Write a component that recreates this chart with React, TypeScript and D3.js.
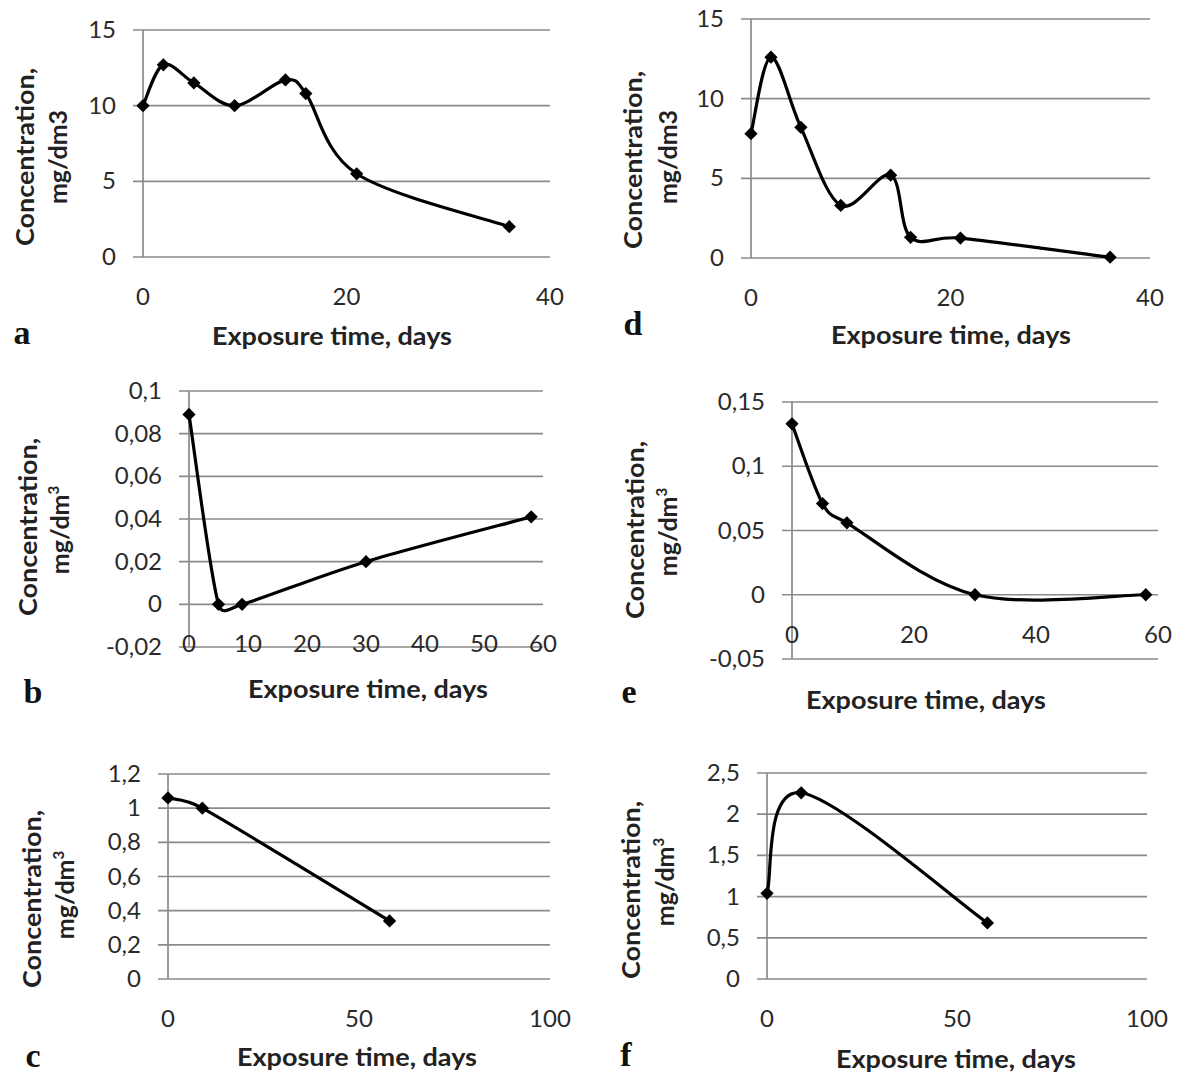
import React from 'react'
import * as d3 from 'd3'

// exposure days and concentrations
const daysA = [0, 2, 5, 9, 14, 16, 21, 36]
const concA = [10.0, 12.7, 11.5, 10.0, 11.7, 10.8, 5.5, 2.0]
const daysD = [0, 2, 5, 9, 14, 16, 21, 36]
const concD = [7.8, 12.6, 8.2, 3.3, 5.2, 1.3, 1.25, 0.05]
const daysB = [0, 5, 9, 30, 58]
const concB = [0.089, 0, 0, 0.02, 0.041]
const daysE = [0, 5, 9, 30, 58]
const concE = [0.133, 0.071, 0.056, 0, 0]
const daysC = [0, 9, 58]
const concC = [1.06, 1.0, 0.34]
const daysF = [0, 9, 58]
const concF = [1.04, 2.26, 0.68]

const yTicksA = [0, 5, 10, 15]
const yTicksB = [-0.02, 0, 0.02, 0.04, 0.06, 0.08, 0.1]
const yTicksC = [0, 0.2, 0.4, 0.6, 0.8, 1, 1.2]
const yTicksE = [-0.05, 0, 0.05, 0.1, 0.15]
const yTicksF = [0, 0.5, 1, 1.5, 2, 2.5]
const xTicks40 = [0, 20, 40]
const xTicks60by10 = [0, 10, 20, 30, 40, 50, 60]
const xTicks60by20 = [0, 20, 40, 60]
const xTicks100 = [0, 50, 100]

const xTitle = 'Exposure time, days'
const yTitle = 'Concentration,'

const locale = d3.formatLocale({
  decimal: ',',
  thousands: ' ',
  grouping: [3],
  currency: ['', ''],
  minus: '-',
})
const fmt = locale.format('~g')

const GRID = '#8a8a8a'
const FONT = 'Lato, "Open Sans", sans-serif'

type PanelDef = {
  letter: string
  days: number[]
  conc: number[]
  xDomain: [number, number]
  yDomain: [number, number]
  xTicks: number[]
  yTicks: number[]
  sup: boolean
  // layout in page pixels
  left: number
  right: number
  top: number
  bottom: number
  concX: number
  concY: number
  mgX: number
  mgY: number
  titleX: number
  titleY: number
  letterX: number
  letterY: number
}

const panels: PanelDef[] = [
  {
    letter: 'a', days: daysA, conc: concA, xDomain: [0, 40], yDomain: [0, 15],
    xTicks: xTicks40, yTicks: yTicksA, sup: false,
    left: 143, right: 550, top: 30, bottom: 257,
    concX: 25, concY: 157, mgX: 60, mgY: 157, titleX: 332, titleY: 345, letterX: 22, letterY: 344,
  },
  {
    letter: 'd', days: daysD, conc: concD, xDomain: [0, 40], yDomain: [0, 15],
    xTicks: xTicks40, yTicks: yTicksA, sup: false,
    left: 751, right: 1150, top: 19, bottom: 258,
    concX: 633, concY: 160, mgX: 670, mgY: 157, titleX: 951, titleY: 344, letterX: 633, letterY: 335,
  },
  {
    letter: 'b', days: daysB, conc: concB, xDomain: [0, 60], yDomain: [-0.02, 0.1],
    xTicks: xTicks60by10, yTicks: yTicksB, sup: true,
    left: 189, right: 543, top: 391, bottom: 647,
    concX: 28, concY: 527, mgX: 62, mgY: 530, titleX: 368, titleY: 698, letterX: 33, letterY: 703,
  },
  {
    letter: 'e', days: daysE, conc: concE, xDomain: [0, 60], yDomain: [-0.05, 0.15],
    xTicks: xTicks60by20, yTicks: yTicksE, sup: true,
    left: 792, right: 1158, top: 402, bottom: 659,
    concX: 635, concY: 530, mgX: 670, mgY: 532, titleX: 926, titleY: 709, letterX: 629, letterY: 703,
  },
  {
    letter: 'c', days: daysC, conc: concC, xDomain: [0, 100], yDomain: [0, 1.2],
    xTicks: xTicks100, yTicks: yTicksC, sup: true,
    left: 168, right: 550, top: 774, bottom: 979,
    concX: 32, concY: 899, mgX: 67, mgY: 895, titleX: 357, titleY: 1066, letterX: 33, letterY: 1067,
  },
  {
    letter: 'f', days: daysF, conc: concF, xDomain: [0, 100], yDomain: [0, 2.5],
    xTicks: xTicks100, yTicks: yTicksF, sup: true,
    left: 767, right: 1147, top: 773, bottom: 979,
    concX: 631, concY: 890, mgX: 667, mgY: 882, titleX: 956, titleY: 1068, letterX: 626, letterY: 1066,
  },
]

const marker = d3.symbol(d3.symbolSquare, 88)()

// spreadsheet-style smoothed line: catmull-rom arms, clamped against the segment length
const smoothPath = (p: [number, number][]) => {
  const path = d3.path()
  const n = p.length
  const tan = p.map((_, i) => {
    const a = p[Math.max(0, i - 1)]
    const b = p[Math.min(n - 1, i + 1)]
    return [(b[0] - a[0]) / 6, (b[1] - a[1]) / 6]
  })
  const arm = (t: number[], chord: number, sign: number) => {
    const len = Math.hypot(t[0], t[1]) || 1
    const k = Math.min(1, (0.55 * chord) / len)
    return [t[0] * k * sign, t[1] * k * sign]
  }
  path.moveTo(p[0][0], p[0][1])
  for (let i = 0; i < n - 1; i++) {
    const chord = Math.hypot(p[i + 1][0] - p[i][0], p[i + 1][1] - p[i][1])
    const c1 = arm(tan[i], chord, 1)
    const c2 = arm(tan[i + 1], chord, -1)
    path.bezierCurveTo(
      p[i][0] + c1[0], p[i][1] + c1[1],
      p[i + 1][0] + c2[0], p[i + 1][1] + c2[1],
      p[i + 1][0], p[i + 1][1]
    )
  }
  return path.toString()
}

const Panel = ({ p }: { p: PanelDef }) => {
  const x = d3.scaleLinear().domain(p.xDomain).range([p.left, p.right])
  const y = d3.scaleLinear().domain(p.yDomain).range([p.bottom, p.top])
  const pts: [number, number][] = p.days.map((d, i) => [x(d), y(p.conc[i])])

  const y0 = y(0)

  return (
    <g>
      {p.yTicks.map(t => (
        <line key={'g' + t} x1={p.left - 10} x2={p.right} y1={y(t)} y2={y(t)} stroke={GRID} strokeWidth={1.7} />
      ))}
      <line x1={x(0)} x2={x(0)} y1={p.top} y2={p.bottom} stroke={GRID} strokeWidth={1.7} />
      {p.yTicks.map(t => (
        <text key={'yl' + t} x={p.left - 27} y={y(t) + 8} textAnchor="end" fontSize={24} fill="#2a2a2a">
          {fmt(t)}
        </text>
      ))}
      {p.xTicks.map(t => (
        <text key={'xl' + t} x={x(t)} y={y0 + 48} textAnchor="middle" fontSize={24} fill="#2a2a2a">
          {fmt(t)}
        </text>
      ))}
      <path d={smoothPath(pts)} fill="none" stroke="#000" strokeWidth={3.2} />
      {pts.map((d, i) => (
        <path key={'m' + i} d={marker || ''} fill="#000" transform={`translate(${d[0]},${d[1]}) rotate(45)`} />
      ))}
      <text
        transform={`translate(${p.concX + 9},${p.concY}) rotate(-90)`}
        textAnchor="middle"
        fontSize={25}
        fontWeight="bold"
        fill="#222"
        textLength={178}
        lengthAdjust="spacingAndGlyphs"
      >
        {yTitle}
      </text>
      <text
        transform={`translate(${p.mgX + 7},${p.mgY}) rotate(-90)`}
        textAnchor="middle"
        fontSize={25}
        fontWeight="bold"
        fill="#222"
      >
        {p.sup ? (
          <>
            mg/dm<tspan fontSize={15} dy={-10}>3</tspan>
          </>
        ) : (
          'mg/dm3'
        )}
      </text>
      <text
        x={p.titleX}
        y={p.titleY}
        textAnchor="middle"
        fontSize={25}
        fontWeight="bold"
        fill="#222"
        textLength={240}
        lengthAdjust="spacingAndGlyphs"
      >
        {xTitle}
      </text>
      <text
        x={p.letterX}
        y={p.letterY}
        textAnchor="middle"
        fontSize={34}
        fontWeight="bold"
        fontFamily='"Liberation Serif", "Times New Roman", serif'
        fill="#111"
      >
        {p.letter}
      </text>
    </g>
  )
}

const App = () => (
  <svg
    width={1178}
    height={1077}
    style={{ position: 'absolute', left: 0, top: 0, background: '#fff' }}
    fontFamily={FONT}
  >
    <rect width={1178} height={1077} fill="#fff" />
    {panels.map(p => (
      <Panel key={p.letter} p={p} />
    ))}
  </svg>
)

export default App
